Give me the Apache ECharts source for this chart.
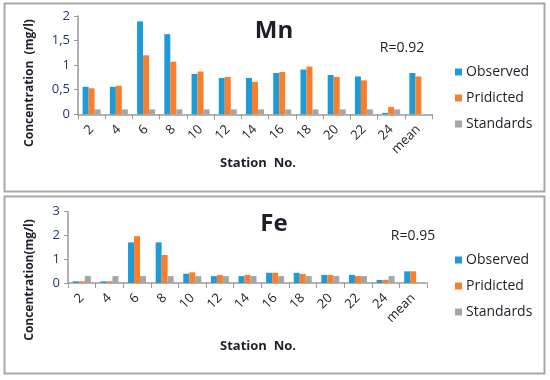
<!DOCTYPE html>
<html><head><meta charset="utf-8">
<script src="https://cdn.jsdelivr.net/npm/echarts@6/dist/echarts.min.js"></script>
<style>html,body{margin:0;padding:0;background:#fff}#c{width:550px;height:380px}</style>
</head><body><div id="c"></div>
<script>
const stations = ['2','4','6','8','10','12','14','16','18','20','22','24','mean'];
const mnObserved  = [0.56,0.56,1.89,1.63,0.82,0.74,0.74,0.84,0.91,0.80,0.77,0.03,0.84];
const mnPredicted = [0.53,0.58,1.20,1.07,0.87,0.76,0.66,0.86,0.97,0.76,0.69,0.15,0.77];
const mnStandards = [0.1,0.1,0.1,0.1,0.1,0.1,0.1,0.1,0.1,0.1,0.1,0.1,null];
const feObserved  = [0.07,0.07,1.71,1.71,0.39,0.29,0.29,0.43,0.43,0.34,0.34,0.13,0.49];
const fePredicted = [0.07,0.07,1.97,1.18,0.45,0.34,0.34,0.43,0.38,0.34,0.29,0.13,0.49];
const feStandards = [0.29,0.29,0.29,0.29,0.29,0.29,0.29,0.29,0.29,0.29,0.29,0.29,null];
const mnTicks = [0,0.5,1,1.5,2];
const feTicks = [0,1,2,3];

const FONT = '"Open Sans", sans-serif';
const TXT = '#1e1e28';
const C_OBS = '#1e9bd7', C_PRED = '#fd7e2a', C_STD = '#a5a5a5';
const chart = echarts.init(document.getElementById('c'));

function xAx(gi){
  return {type:'category', gridIndex:gi, data:stations,
    axisLine:{lineStyle:{color:'#9a9a9a',width:1.5}},
    axisTick:{show:true,length:5,lineStyle:{color:'#9a9a9a'}},
    axisLabel:{rotate:45, margin:13, fontSize:13, color:TXT, fontFamily:FONT, interval:0}};
}
function yAx(gi,ticks){
  return {type:'value', gridIndex:gi, min:ticks[0], max:ticks[ticks.length-1], interval:ticks[1]-ticks[0],
    splitLine:{show:false},
    axisLine:{show:true,lineStyle:{color:'#9a9a9a',width:1.5}},
    axisTick:{show:true,length:4,lineStyle:{color:'#9a9a9a'}},
    axisLabel:{fontSize:13, color:'#1f3a6e', fontFamily:FONT, margin:8,
      formatter:v=>String(v).replace('.',',')}};
}
function bar(name,data,color,xi,yi){
  return {type:'bar', name, data, xAxisIndex:xi, yAxisIndex:yi, barWidth:6, barGap:'0%',
    itemStyle:{color}, silent:true, animation:false};
}
const legendData = ['Observed','Pridicted','Standards'];
function legend(top){
  return {orient:'vertical', left:450, top, itemWidth:7, itemHeight:7, itemGap:12,
    icon:'rect', data:legendData, selectedMode:false,
    textStyle:{fontSize:14, color:TXT, fontFamily:FONT, padding:[0,0,0,-1]}};
}
function txt(x,y,text,size,weight,rot){
  return {type:'text', x, y, rotation:rot||0, silent:true,
    style:{text, fill:TXT, font:(weight||'normal')+' '+size+'px '+FONT, align:'center', verticalAlign:'middle'}};
}

chart.setOption({
  animation:false,
  grid:[{left:78, top:16, width:354, height:98.3},
        {left:68, top:211.7, width:359, height:71.3}],
  xAxis:[xAx(0), xAx(1)],
  yAxis:[yAx(0,mnTicks), yAx(1,feTicks)],
  legend:[legend(60), legend(248)],
  series:[
    bar('Observed',mnObserved,C_OBS,0,0),
    bar('Pridicted',mnPredicted,C_PRED,0,0),
    bar('Standards',mnStandards,C_STD,0,0),
    bar('Observed',feObserved,C_OBS,1,1),
    bar('Pridicted',fePredicted,C_PRED,1,1),
    bar('Standards',feStandards,C_STD,1,1)
  ],
  graphic:[
    {type:'rect', shape:{x:4.5,y:3.5,width:540,height:188}, style:{fill:'none',stroke:'#a8a8a8',lineWidth:2}, silent:true},
    {type:'rect', shape:{x:4.5,y:196.5,width:540,height:177}, style:{fill:'none',stroke:'#a8a8a8',lineWidth:2}, silent:true},
    txt(274,31,'Mn',24,'bold'),
    txt(402,48,'R=0.92',14,'normal'),
    txt(258,163,'Station  No.',13,'bold'),
    txt(30,83,'Concentration  (mg/l)',12,'bold',Math.PI/2),
    txt(274,224,'Fe',24,'bold'),
    txt(413,236,'R=0.95',14,'normal'),
    txt(258,346,'Station  No.',13,'bold'),
    txt(30,280,'Concentration(mg/l)',12,'bold',Math.PI/2)
  ]
});
</script></body></html>
